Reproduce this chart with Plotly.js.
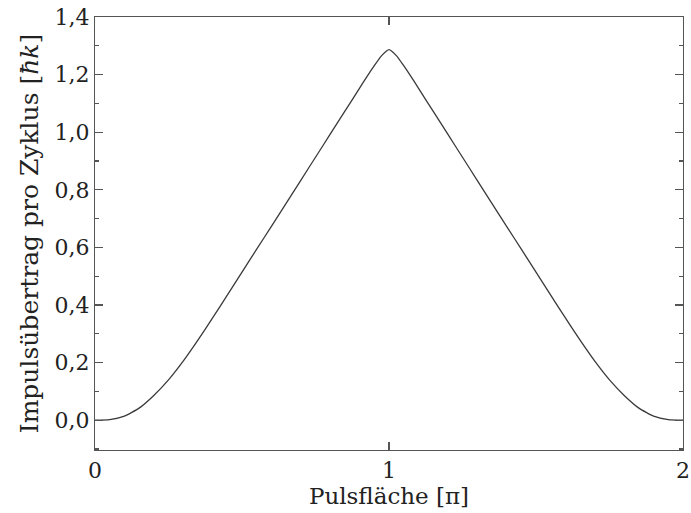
<!DOCTYPE html>
<html>
<head>
<meta charset="utf-8">
<script src="https://cdn.plot.ly/plotly-3.0.1.min.js"></script>
<style>html,body{margin:0;padding:0;background:#fff;}#chart{width:691px;height:513px;}</style>
</head>
<body>
<div id="chart"></div>
<script>
// Pulse area in units of pi
const pulseArea = [0.00, 0.05, 0.10, 0.15, 0.20, 0.25, 0.30, 0.35, 0.40, 0.45, 0.50, 0.55, 0.60, 0.65, 0.70, 0.75, 0.80, 0.85, 0.90, 0.925, 0.95, 0.975, 1.00,
                   1.025, 1.05, 1.075, 1.10, 1.15, 1.20, 1.25, 1.30, 1.35, 1.40, 1.45, 1.50, 1.55, 1.60, 1.65, 1.70, 1.75, 1.80, 1.85, 1.90, 1.95, 2.00];
// Momentum transfer per cycle in units of hbar k
const momentum = [0.000, 0.002, 0.014, 0.042, 0.086, 0.140, 0.205, 0.278, 0.355, 0.434, 0.514, 0.594, 0.673, 0.753, 0.833, 0.913, 0.993, 1.073, 1.153, 1.193, 1.231, 1.266, 1.287,
                  1.266, 1.231, 1.193, 1.153, 1.073, 0.993, 0.913, 0.833, 0.753, 0.673, 0.594, 0.514, 0.434, 0.355, 0.278, 0.205, 0.140, 0.086, 0.042, 0.014, 0.002, 0.000];
const xTicks = [0, 1, 2];
const yTicks = [0.0, 0.2, 0.4, 0.6, 0.8, 1.0, 1.2, 1.4];

const font = 'DejaVu Serif, Liberation Serif, serif';
const axisCommon = {
  showgrid: false, zeroline: false, showline: true, linecolor: '#555', linewidth: 1.2,
  mirror: 'allticks', ticks: 'inside', tickcolor: '#555', tickwidth: 1.2,
  tickfont: {family: font, size: 22, color: '#222'}
};

Plotly.newPlot('chart', [{
  x: pulseArea, y: momentum, type: 'scatter', mode: 'lines',
  line: {color: '#3a3a3a', width: 1.3, shape: 'spline', smoothing: 0.5},
  hoverinfo: 'skip'
}], {
  width: 691, height: 513,
  margin: {l: 95, r: 8, t: 17, b: 63},
  paper_bgcolor: '#fff', plot_bgcolor: '#fff',
  separators: ',.',
  showlegend: false,
  xaxis: Object.assign({}, axisCommon, {
    range: [0, 2], tickvals: xTicks, ticktext: xTicks.map(String), ticklen: 8,
    title: {text: 'Pulsfläche [π]', font: {family: font, size: 23, color: '#222'}, standoff: 3}
  }),
  yaxis: Object.assign({}, axisCommon, {
    range: [-0.1035, 1.4], tickvals: yTicks, tickformat: '.1f', ticklen: 8,
    minor: {dtick: 0.1, tick0: 0, ticks: 'inside', ticklen: 4, tickcolor: '#555', tickwidth: 1.2},
    title: {text: 'Impulsübertrag pro Zyklus [<i>ħk</i>]', font: {family: font, size: 25, color: '#222'}, standoff: 8}
  })
}, {staticPlot: true, displayModeBar: false});
</script>
</body>
</html>
